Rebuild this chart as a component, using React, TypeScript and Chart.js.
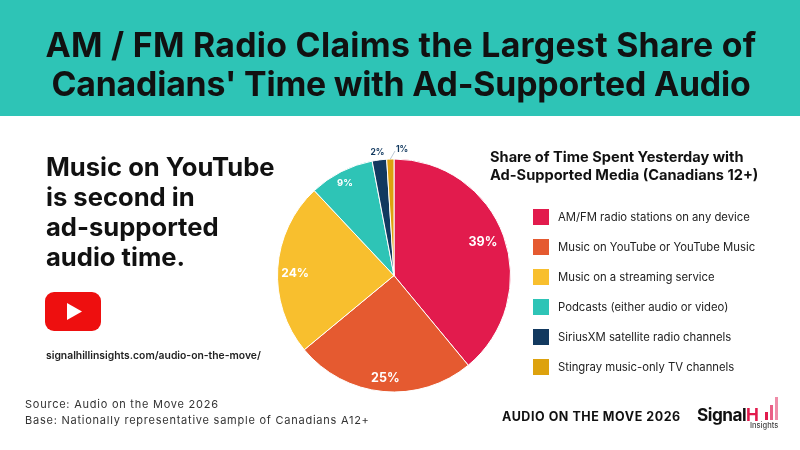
import React, { useEffect, useRef } from "react";
import { Chart, registerables } from "chart.js";

Chart.register(...registerables);

const categories = [
  "AM/FM radio stations on any device",
  "Music on YouTube or YouTube Music",
  "Music on a streaming service",
  "Podcasts (either audio or video)",
  "SiriusXM satellite radio channels",
  "Stingray music-only TV channels",
];
const shares = [39, 25, 24, 9, 2, 1];
const colours = ["#E21B4D", "#E55A30", "#F8BF2E", "#2EC4B6", "#12395F", "#DDA20E"];

const titleLines = ["AM / FM Radio Claims the Largest Share of", "Canadians' Time with Ad-Supported Audio"];
const leftLines = ["Music on YouTube", "is second in", "ad-supported", "audio time."];
const legendTitleLines = ["Share of Time Spent Yesterday with", "Ad-Supported Media (Canadians 12+)"];
const linkText = "signalhillinsights.com/audio-on-the-move/";
const sourceLines = ["Source: Audio on the Move 2026", "Base: Nationally representative sample of Canadians A12+"];
const FONT = "Inter, 'Open Sans', sans-serif";

const sliceLabels = {
  id: "sliceLabels",
  afterDatasetsDraw(chart: any) {
    const ctx = chart.ctx;
    const arcs = chart.getDatasetMeta(0).data;
    const place = [
      { r: 0.82, size: 12.5, colour: "#fff", dx: -1, dy: -1 },
      { r: 0.88, size: 12.5, colour: "#fff", dx: 1, dy: 1 },
      { r: 0.85, size: 12, colour: "#fff", dx: 0, dy: 4 },
      { r: 0.89, size: 9.5, colour: "#fff", dx: -2, dy: 0 },
      { r: 1.07, size: 8.5, colour: "#12395F", dx: -1, dy: 1 },
      { r: 1.07, size: 8.5, colour: "#12395F", dx: 12, dy: -1 },
    ];
    ctx.save();
    ctx.textAlign = "center";
    ctx.textBaseline = "middle";
    arcs.forEach((arc: any, i: number) => {
      const p = place[i];
      const mid = (arc.startAngle + arc.endAngle) / 2;
      const x = arc.x + Math.cos(mid) * arc.outerRadius * p.r + p.dx;
      const y = arc.y + Math.sin(mid) * arc.outerRadius * p.r + p.dy;
      ctx.font = `700 ${p.size}px ${FONT}`;
      ctx.fillStyle = p.colour;
      ctx.fillText(`${shares[i]}%`, x, y);
      if (i === 5) {
        ctx.strokeStyle = "#9fb0c0";
        ctx.lineWidth = 0.7;
        ctx.beginPath();
        ctx.moveTo(arc.x + Math.cos(mid) * arc.outerRadius, arc.y + Math.sin(mid) * arc.outerRadius);
        ctx.lineTo(x - 7, y + 1);
        ctx.stroke();
      }
    });
    ctx.restore();
  },
};

const abs = (left: number, top: number, extra: React.CSSProperties = {}): React.CSSProperties => ({
  position: "absolute",
  left,
  top,
  whiteSpace: "nowrap",
  ...extra,
});

export default function App() {
  const ref = useRef<HTMLCanvasElement>(null);
  useEffect(() => {
    const chart = new Chart(ref.current!, {
      type: "pie",
      data: {
        labels: categories,
        datasets: [{ data: shares, backgroundColor: colours, borderColor: "#fff", borderWidth: 1 }],
      },
      options: {
        animation: false,
        responsive: false,
        layout: { padding: { left: 277, right: 289, top: 158, bottom: 57 } },
        plugins: { legend: { display: false }, tooltip: { enabled: false } },
      },
      plugins: [sliceLabels],
    });
    return () => chart.destroy();
  }, []);

  return (
    <div style={{ position: "fixed", inset: 0, width: 800, height: 450, background: "#fff", overflow: "hidden", fontFamily: FONT }}>
      <div style={{ position: "absolute", left: 0, top: 0, width: 800, height: 116, background: "#2EC4B6" }} />
      <canvas ref={ref} width={800} height={450} style={{ position: "absolute", left: 0, top: 0 }} />
      {titleLines.map((t, i) => (
        <div key={t} style={{ position: "absolute", left: 0, width: 802, top: 25 + i * 39, textAlign: "center", fontSize: 33.8, lineHeight: "40px", fontWeight: 700, letterSpacing: i === 0 ? 0.3 : -0.18, color: "#111", whiteSpace: "nowrap" }}>{t}</div>
      ))}
      {leftLines.map((t, i) => (
        <div key={t} style={abs(46, 152 + i * 30, { fontSize: 25.6, lineHeight: "30px", fontWeight: 700, color: "#111" })}>{t}</div>
      ))}
      <svg width={58} height={42} viewBox="0 0 58 42" style={{ position: "absolute", left: 45, top: 291 }}>
        <rect x={0} y={1} width={56} height={39} rx={9} fill="#EE0F0F" />
        <polygon points="22,12 22,29 37,20.5" fill="#fff" />
      </svg>
      <div style={abs(46, 349, { fontSize: 10.35, fontWeight: 600, color: "#222" })}>{linkText}</div>
      {sourceLines.map((t, i) => (
        <div key={t} style={abs(25, 397 + i * 15.5, { fontSize: 11, lineHeight: "14px", letterSpacing: 0.76, color: "#333" })}>{t}</div>
      ))}
      {legendTitleLines.map((t, i) => (
        <div key={t} style={abs(490, 148 + i * 18, { fontSize: 14.6, lineHeight: "18px", fontWeight: 700, color: "#111" })}>{t}</div>
      ))}
      {categories.map((c, i) => (
        <div key={c}>
          <div style={{ position: "absolute", left: 533, top: 209 + i * 30, width: 16, height: 16, background: colours[i] }} />
          <div style={abs(558, 209 + i * 30, { fontSize: 11.3, lineHeight: "16px", color: "#222" })}>{c}</div>
        </div>
      ))}
      <div style={abs(502, 409, { fontSize: 12.5, fontWeight: 700, letterSpacing: 0.55, color: "#111" })}>AUDIO ON THE MOVE 2026</div>
      <div style={abs(697, 404, { fontSize: 17.2, fontWeight: 700, letterSpacing: -0.5, color: "#111" })}>
        Signal<span style={{ color: "#E21B4D" }}>H</span>
      </div>
      {[8, 15, 23].map((h, i) => (
        <div key={h} style={{ position: "absolute", left: 765 + i * 5, top: 420 - h, width: 2.5, height: h, background: ["#E21B4D", "#EA5F86", "#EF8CA8"][i] }} />
      ))}
      <div style={abs(750, 421, { fontSize: 7.5, fontWeight: 500, color: "#444" })}>Insights</div>
    </div>
  );
}
